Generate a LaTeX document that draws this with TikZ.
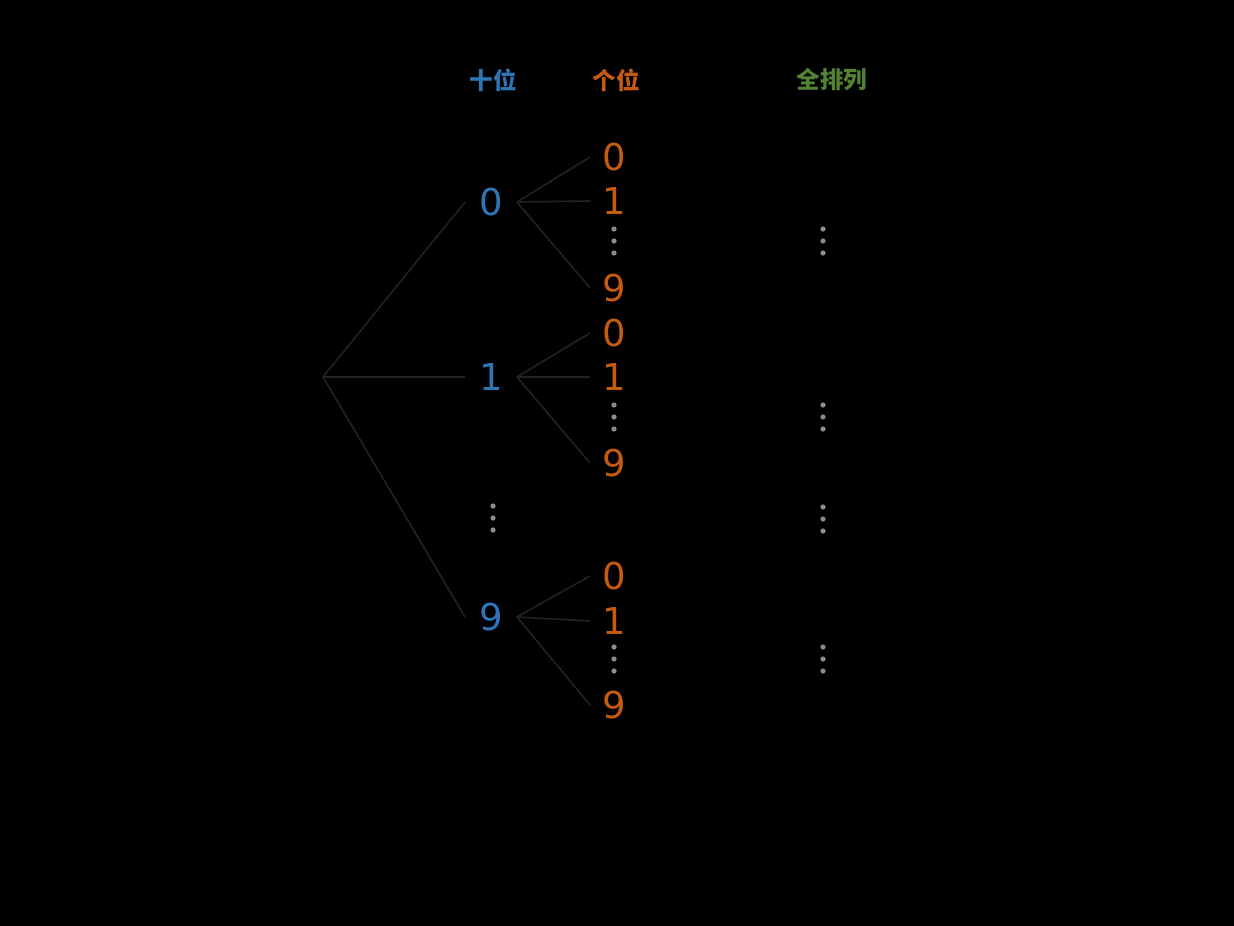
\documentclass[tikz,border=0pt]{standalone}
\usepackage{fontspec}
\setmainfont{DejaVu Sans}
\newfontfamily\cjk{Noto Sans CJK SC}
\definecolor{tenblue}{HTML}{2E75B6}
\definecolor{oneorange}{HTML}{C55A11}
\definecolor{permgreen}{HTML}{548235}
\definecolor{branchgray}{HTML}{222222}
\definecolor{dotgray}{HTML}{8C8C8C}
\tikzset{
  tens/.style={text=tenblue,inner xsep=14pt,inner ysep=12pt,font=\fontsize{37}{40}\selectfont},
  ones/.style={text=oneorange,inner sep=12pt,font=\fontsize{37}{40}\selectfont},
  head/.style={inner sep=0pt,font=\fontsize{23.5}{26}\selectfont\cjk\bfseries},
  branch/.style={draw=branchgray,line width=1.6pt}
}
\begin{document}
\begin{tikzpicture}[x=1pt,y=1pt,yscale=-1]
%Background
\fill[black] (0,0) rectangle (1234,926);
\useasboundingbox (0,0) rectangle (1234,926);

% Text Node
\node (htens) at (493,80) [head,text=tenblue] {十位};
% Text Node
\node (hones) at (616,80) [head,text=oneorange] {个位};
% Text Node
\node (hperm) at (832,80) [head,text=permgreen] {全排列};

%Root
\coordinate (root) at (323,377);

% Tens digits
\node (t0) at (491,202) [tens] {0};
\node (t1) at (491,377) [tens] {1};
\node (t9) at (491,617) [tens] {9};

% Ones digits
\node (a0) at (614,157) [ones] {0};
\node (a1) at (614,201) [ones] {1};
\node (a9) at (614,288) [ones] {9};
\node (b0) at (614,333) [ones] {0};
\node (b1) at (614,377) [ones] {1};
\node (b9) at (614,463) [ones] {9};
\node (c0) at (614,576) [ones] {0};
\node (c1) at (614,621) [ones] {1};
\node (c9) at (614,705) [ones] {9};

%Branches
\foreach \t in {t0,t1,t9}
  \draw[branch] (root) -- (\t.west);
\foreach \t/\g in {t0/a,t1/b,t9/c}
  \foreach \d in {0,1,9}
    \draw[branch] (\t.east) -- (\g\d.west);

%Vertical dots
\foreach \x/\y in {614/229,614/405,614/647,493/506,823/229,823/405,823/507,823/647}
  \foreach \k in {0,1,2}
    \fill[dotgray] (\x,\y+12*\k) circle (2.6);

\end{tikzpicture}
\end{document}
